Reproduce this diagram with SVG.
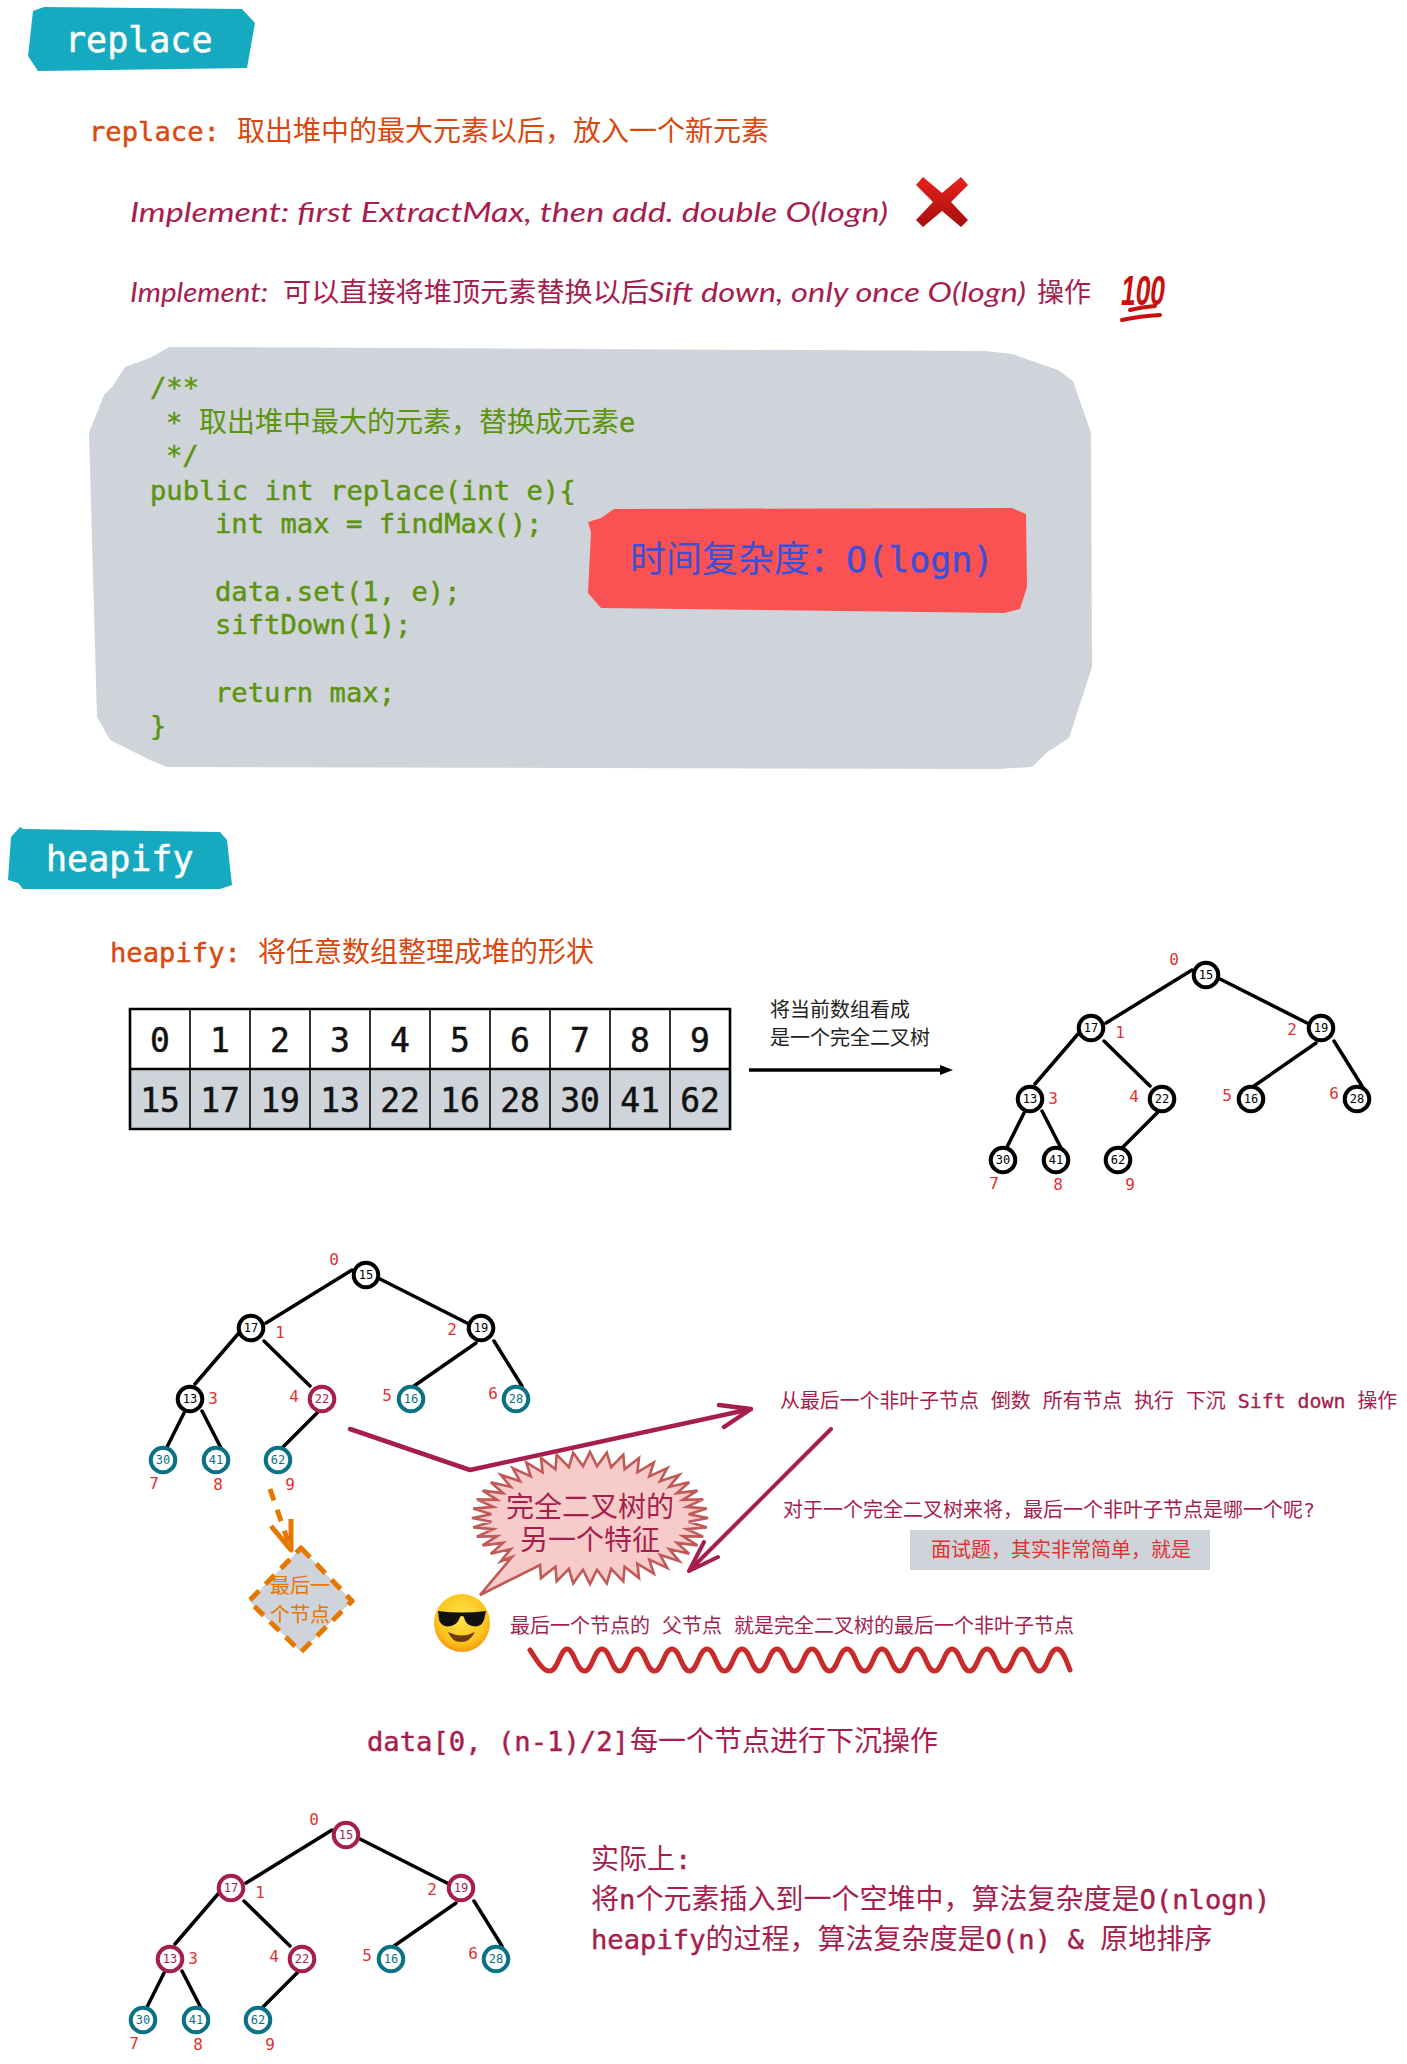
<svg xmlns="http://www.w3.org/2000/svg" width="1407" height="2064" viewBox="0 0 1407 2064">
<style>
text{font-family:"DejaVu Sans Mono","Noto Sans CJK SC",monospace}
.cjk{font-family:"Noto Sans CJK SC",sans-serif;stroke:none}
.hand{font-family:"Lato","Noto Sans CJK SC",sans-serif;font-style:italic;font-size:27px;fill:#a61e4d}
.hz{font-family:"Noto Sans CJK SC",sans-serif;font-size:27px;fill:#a61e4d}
.badge{fill:#15aabf}
.bt{fill:#fff;font-size:35px;stroke:#fff;stroke-width:.5}
.o{fill:#d9480f;font-size:27.2px;stroke:#d9480f;stroke-width:.45}
.code{fill:#5c940d;font-size:27.2px;stroke:#5c940d;stroke-width:.45}
.cr{fill:#a61e4d}
.f28{font-size:27.2px;stroke:#a61e4d;stroke-width:.45}
.f20{font-size:19.8px}
.lat{stroke:#a61e4d;stroke-width:.35}
.cell{font-size:33px;text-anchor:middle;fill:#111;stroke:#111;stroke-width:.5}
.ln{stroke:#000;fill:none}
.n circle{stroke-width:4;fill:#fff}
.n .v{font-size:12px;text-anchor:middle}
.n .i{font-size:16px;text-anchor:middle;fill:#e03131}
.k circle{stroke:#000}.k .v{fill:#000}
.c circle{stroke:#a61e4d}.c .v{fill:#a61e4d}
.t circle{stroke:#0b7285}.t .v{fill:#0b7285}
.edge{stroke:#000;stroke-width:3.5;stroke-linecap:round}
.arrow{fill:none;stroke:#a61e4d;stroke-width:4.5;stroke-linecap:round;stroke-linejoin:round}
.dash{fill:none;stroke:#e67700;stroke-width:5;stroke-linejoin:round}
</style>
<defs>
<linearGradient id="xg" x1="0" y1="0" x2="0" y2="1"><stop offset="0" stop-color="#e8211c"/><stop offset="1" stop-color="#a50f0f"/></linearGradient>
<radialGradient id="fg" cx="0.5" cy="0.4" r="0.65"><stop offset="0" stop-color="#ffe64d"/><stop offset="0.7" stop-color="#fcc21b"/><stop offset="1" stop-color="#ee8a10"/></radialGradient>
</defs>

<g id="badge-replace"><polygon class="badge" points="33,11 44,7 242,9 255,23 247,68 38,71 28,56 32,20"/><text class="bt" x="65" y="52">replace</text></g>
<g id="title-replace"><text class="o" x="89" y="141">replace:<tspan x="237" class="cjk" font-size="28">取出堆中的最大元素以后，放入一个新元素</tspan></text></g>
<g id="implement-1"><text class="hand" x="130" y="222" textLength="758" lengthAdjust="spacingAndGlyphs">Implement: first ExtractMax, then add. double O(logn)</text>
<polygon fill="url(#xg)" points="916,185 923,177 942,193 961,177 968,185 951,202 968,220 961,227 942,211 923,227 916,220 933,202"/></g>
<g id="implement-2"><text class="hand" x="130" y="302" textLength="138" lengthAdjust="spacingAndGlyphs">Implement:</text>
<text class="hz" x="283" y="302" textLength="366" lengthAdjust="spacingAndGlyphs">可以直接将堆顶元素替换以后</text>
<text class="hand" x="648" y="302" textLength="378" lengthAdjust="spacingAndGlyphs">Sift down, only once O(logn)</text>
<text class="hz" x="1037" y="302">操作</text>
<text x="1121" y="305" fill="#c8100f" font-size="43" font-weight="bold" style="font-family:'Liberation Sans',sans-serif;font-style:italic" textLength="44" lengthAdjust="spacingAndGlyphs">100</text>
<path d="M1130 310Q1142 307 1155 306M1122 320Q1140 316 1160 315" fill="none" stroke="#c8100f" stroke-width="4" stroke-linecap="round"/></g>

<g id="code-block"><polygon fill="#ced4da" points="169,347 197,347 985,351 1012,354 1058,370 1073,381 1091,433 1092,667 1069,738 1046,753 1032,767 998,769 167,767 150,760 110,740 97,717 89,433 104,395 112,387 125,367 150,358"/>
<g class="code"><text x="150" y="397">/**</text><text x="166" y="432">*<tspan x="199" class="cjk" font-size="28">取出堆中最大的元素，替换成元素</tspan><tspan>e</tspan></text><text x="166" y="465">*/</text><text x="150" y="500">public int replace(int e){</text><text x="215" y="533">int max = findMax();</text><text x="215" y="601">data.set(1, e);</text><text x="215" y="634">siftDown(1);</text><text x="215" y="702">return max;</text><text x="150" y="735">}</text></g></g>
<g id="complexity"><polygon fill="#fa5252" points="614,509 1012,508 1026,514 1027,587 1020,609 1004,613 601,608 588,593 591,532 588,522 601,518"/><text x="630" y="572" fill="#3b50d8" font-size="36">时间复杂度：<tspan font-size="35" stroke="#3b50d8" stroke-width=".4">O(logn)</tspan></text></g>

<g id="badge-heapify"><polygon class="badge" points="20,827 23,829 220,832 227,840 232,885 220,889 23,889 18,883 8,880 11,837"/><text class="bt" x="46" y="871">heapify</text></g>
<g id="title-heapify"><text class="o" x="110" y="962">heapify:<tspan x="258" class="cjk" font-size="28">将任意数组整理成堆的形状</tspan></text></g>

<g id="array">
<rect x="130" y="1009" width="600" height="60" fill="#fff"/><rect x="130" y="1069" width="600" height="60" fill="#ced4da"/>
<path class="ln" stroke-width="1.6" d="M190 1009V1129M250 1009V1129M310 1009V1129M370 1009V1129M430 1009V1129M490 1009V1129M550 1009V1129M610 1009V1129M670 1009V1129"/>
<path class="ln" stroke-width="2.6" d="M130 1009H730V1129H130ZM130 1069H730"/>
<g class="cell"><text x="160" y="1052">0</text><text x="220" y="1052">1</text><text x="280" y="1052">2</text><text x="340" y="1052">3</text><text x="400" y="1052">4</text><text x="460" y="1052">5</text><text x="520" y="1052">6</text><text x="580" y="1052">7</text><text x="640" y="1052">8</text><text x="700" y="1052">9</text>
<text x="160" y="1112">15</text><text x="220" y="1112">17</text><text x="280" y="1112">19</text><text x="340" y="1112">13</text><text x="400" y="1112">22</text><text x="460" y="1112">16</text><text x="520" y="1112">28</text><text x="580" y="1112">30</text><text x="640" y="1112">41</text><text x="700" y="1112">62</text></g>
</g>
<g id="array-note"><text font-size="20" x="770" y="1017" fill="#222">将当前数组看成</text><text font-size="20" x="770" y="1045" fill="#222">是一个完全二叉树</text></g>

<g id="connectors">
<path d="M749 1070H943" stroke="#000" stroke-width="3.6"/><polygon points="940,1065 953,1070 940,1075"/>
<g id="edges-tree1" transform="translate(840 -300)"><path class="edge" d="M352 1270L266 1323M380 1279L467 1323M238 1334L195 1384M264 1341L310 1386M476 1343L414 1386M494 1341L522 1386M184 1413L167 1447M202 1411L221 1448M318 1412L282 1448"/></g>
<g id="edges-tree2"><path class="edge" d="M352 1270L266 1323M380 1279L467 1323M238 1334L195 1384M264 1341L310 1386M476 1343L414 1386M494 1341L522 1386M184 1413L167 1447M202 1411L221 1448M318 1412L282 1448"/></g>
<g id="edges-tree3" transform="translate(-20 560)"><path class="edge" d="M352 1270L266 1323M380 1279L467 1323M238 1334L195 1384M264 1341L310 1386M476 1343L414 1386M494 1341L522 1386M184 1413L167 1447M202 1411L221 1448M318 1412L282 1448"/></g>
<path class="arrow" d="M350 1429L470 1470L751 1409M719 1405L751 1409L724 1427"/>
<path class="arrow" style="stroke-width:4" d="M831 1429L689 1571M704 1542L689 1571L718 1557"/>
<path class="dash" stroke-dasharray="12 10" d="M270 1489L291 1550"/>
<path class="dash" d="M271 1526L291 1550L291 1519"/>
</g>

<g class="n k" id="t1-15" transform="translate(1206 975)"><circle r="12.3"/><text class="v" y="4">15</text><text class="i" x="-32" y="-10">0</text></g>
<g class="n k" id="t1-17" transform="translate(1091 1028)"><circle r="12.3"/><text class="v" y="4">17</text><text class="i" x="29" y="10">1</text></g>
<g class="n k" id="t1-19" transform="translate(1321 1028)"><circle r="12.3"/><text class="v" y="4">19</text><text class="i" x="-29" y="7">2</text></g>
<g class="n k" id="t1-13" transform="translate(1030 1099)"><circle r="12.3"/><text class="v" y="4">13</text><text class="i" x="23" y="5">3</text></g>
<g class="n k" id="t1-22" transform="translate(1162 1099)"><circle r="12.3"/><text class="v" y="4">22</text><text class="i" x="-28" y="3">4</text></g>
<g class="n k" id="t1-16" transform="translate(1251 1099)"><circle r="12.3"/><text class="v" y="4">16</text><text class="i" x="-24" y="2">5</text></g>
<g class="n k" id="t1-28" transform="translate(1357 1099)"><circle r="12.3"/><text class="v" y="4">28</text><text class="i" x="-23" y="0">6</text></g>
<g class="n k" id="t1-30" transform="translate(1003 1160)"><circle r="12.3"/><text class="v" y="4">30</text><text class="i" x="-9" y="29">7</text></g>
<g class="n k" id="t1-41" transform="translate(1056 1160)"><circle r="12.3"/><text class="v" y="4">41</text><text class="i" x="2" y="30">8</text></g>
<g class="n k" id="t1-62" transform="translate(1118 1160)"><circle r="12.3"/><text class="v" y="4">62</text><text class="i" x="12" y="30">9</text></g>

<g class="n k" id="t2-15" transform="translate(366 1275)"><circle r="12.3"/><text class="v" y="4">15</text><text class="i" x="-32" y="-10">0</text></g>
<g class="n k" id="t2-17" transform="translate(251 1328)"><circle r="12.3"/><text class="v" y="4">17</text><text class="i" x="29" y="10">1</text></g>
<g class="n k" id="t2-19" transform="translate(481 1328)"><circle r="12.3"/><text class="v" y="4">19</text><text class="i" x="-29" y="7">2</text></g>
<g class="n k" id="t2-13" transform="translate(190 1399)"><circle r="12.3"/><text class="v" y="4">13</text><text class="i" x="23" y="5">3</text></g>
<g class="n c" id="t2-22" transform="translate(322 1399)"><circle r="12.3"/><text class="v" y="4">22</text><text class="i" x="-28" y="3">4</text></g>
<g class="n t" id="t2-16" transform="translate(411 1399)"><circle r="12.3"/><text class="v" y="4">16</text><text class="i" x="-24" y="2">5</text></g>
<g class="n t" id="t2-28" transform="translate(516 1399)"><circle r="12.3"/><text class="v" y="4">28</text><text class="i" x="-23" y="0">6</text></g>
<g class="n t" id="t2-30" transform="translate(163 1460)"><circle r="12.3"/><text class="v" y="4">30</text><text class="i" x="-9" y="29">7</text></g>
<g class="n t" id="t2-41" transform="translate(216 1460)"><circle r="12.3"/><text class="v" y="4">41</text><text class="i" x="2" y="30">8</text></g>
<g class="n t" id="t2-62" transform="translate(278 1460)"><circle r="12.3"/><text class="v" y="4">62</text><text class="i" x="12" y="30">9</text></g>

<g id="last-node"><polygon points="301,1548 352,1601 301,1652 249,1601" class="dash" style="fill:#ced4da" stroke-dasharray="13 9"/><text font-size="20" x="300" y="1593" text-anchor="middle" fill="#e67700">最后一</text><text font-size="20" x="300" y="1622" text-anchor="middle" fill="#e67700">个节点</text></g>

<g id="burst"><polygon transform="translate(590 1518)" fill="#f7cbc9" stroke="#c05a58" stroke-width="2.6" stroke-linejoin="miter" points="118,0 98.7,-3.7 116.8,-9.4 96.7,-11.1 113.2,-18.6 92.8,-18.2 107.4,-27.4 86.9,-24.9 99.2,-35.7 79.2,-31.1 89.2,-43.2 70,-36.8 77.3,-49.9 59.3,-41.6 63.8,-55.5 47.4,-45.7 49,-60.1 34.6,-48.7 33.3,-63.4 21.1,-50.8 16.8,-65.3 7,-51.8 0,-66 -7,-51.8 -16.8,-65.3 -21.1,-50.8 -33.3,-63.4 -34.6,-48.7 -49,-60.1 -47.4,-45.7 -63.8,-55.5 -59.3,-41.6 -77.3,-49.9 -70,-36.8 -89.2,-43.2 -79.2,-31.1 -99.2,-35.7 -86.9,-24.9 -107.4,-27.4 -92.8,-18.2 -113.2,-18.6 -96.7,-11.1 -116.8,-9.4 -98.7,-3.7 -118,0 -98.7,3.7 -116.8,9.4 -96.7,11.1 -113.2,18.6 -92.8,18.2 -107.4,27.4 -86.9,24.9 -99.2,35.7 -79.2,31.1 -89.2,43.2 -78,39 -110,77 -50,47 -49,60.1 -34.6,48.7 -33.3,63.4 -21.1,50.8 -16.8,65.3 -7,51.8 0,66 7,51.8 16.8,65.3 21.1,50.8 33.3,63.4 34.6,48.7 49,60.1 47.4,45.7 63.8,55.5 59.3,41.6 77.3,49.9 70,36.8 89.2,43.2 79.2,31.1 99.2,35.7 86.9,24.9 107.4,27.4 92.8,18.2 113.2,18.6 96.7,11.1 116.8,9.4 98.7,3.7"/>
<text class="cr" font-size="28" x="590" y="1517" text-anchor="middle">完全二叉树的</text><text class="cr" font-size="28" x="590" y="1550" text-anchor="middle">另一个特征</text></g>

<g id="emoji-cool"><ellipse cx="462" cy="1623" rx="28" ry="29" fill="url(#fg)"/>
<path d="M438 1611Q462 1614 486 1611L484 1620Q481 1628 472 1626Q465 1624 464 1617Q462 1615 460 1617Q458 1624 451 1626Q442 1628 439 1620Z" fill="#111"/>
<path d="M448 1632Q462 1639 475 1632Q470 1642 461 1642Q452 1642 448 1632Z" fill="#6b3a10"/></g>

<g id="note-1"><text class="cr" font-size="19.9" x="780" y="1408">从最后一个非叶子节点 倒数 所有节点 执行 下沉 <tspan class="lat">Sift down</tspan> 操作</text></g>
<g id="note-2"><text class="cr" font-size="20" x="783" y="1517">对于一个完全二叉树来将，最后一个非叶子节点是哪一个呢?</text></g>
<g id="note-3"><rect x="910" y="1530" width="300" height="40" fill="#ced4da"/><text font-size="20" x="931" y="1557" fill="#e03131">面试题，其实非常简单，就是</text></g>
<g id="note-4"><text class="cr" font-size="20" x="510" y="1633">最后一个节点的 父节点 就是完全二叉树的最后一个非叶子节点</text>
<path d="M530 1650C538 1662 543 1671 549.5 1671C558 1671 560 1649 567 1649s9.5 22 17.5 22s9.5 -22 17.5 -22s9.5 22 17.5 22s9.5 -22 17.5 -22s9.5 22 17.5 22s9.5 -22 17.5 -22s9.5 22 17.5 22s9.5 -22 17.5 -22s9.5 22 17.5 22s9.5 -22 17.5 -22s9.5 22 17.5 22s9.5 -22 17.5 -22s9.5 22 17.5 22s9.5 -22 17.5 -22s9.5 22 17.5 22s9.5 -22 17.5 -22s9.5 22 17.5 22s9.5 -22 17.5 -22s9.5 22 17.5 22s9.5 -22 17.5 -22s9.5 22 17.5 22s9.5 -22 17.5 -22s9.5 22 17.5 22s9.5 -22 17.5 -22s9.5 22 17.5 22s9.5 -22 17.5 -22s9.5 22 17.5 22s9.5 -22 17.5 -22C1063 1649 1066 1660 1070 1670" fill="none" stroke="#c92a2a" stroke-width="5" stroke-linecap="round"/></g>

<g id="range"><text class="cr f28" x="367" y="1751">data[0, (n-1)/2]<tspan x="630" class="cjk" font-size="28">每一个节点进行下沉操作</tspan></text></g>

<g class="n c" id="t3-15" transform="translate(346 1835)"><circle r="12.3"/><text class="v" y="4">15</text><text class="i" x="-32" y="-10">0</text></g>
<g class="n c" id="t3-17" transform="translate(231 1888)"><circle r="12.3"/><text class="v" y="4">17</text><text class="i" x="29" y="10">1</text></g>
<g class="n c" id="t3-19" transform="translate(461 1888)"><circle r="12.3"/><text class="v" y="4">19</text><text class="i" x="-29" y="7">2</text></g>
<g class="n c" id="t3-13" transform="translate(170 1959)"><circle r="12.3"/><text class="v" y="4">13</text><text class="i" x="23" y="5">3</text></g>
<g class="n c" id="t3-22" transform="translate(302 1959)"><circle r="12.3"/><text class="v" y="4">22</text><text class="i" x="-28" y="3">4</text></g>
<g class="n t" id="t3-16" transform="translate(391 1959)"><circle r="12.3"/><text class="v" y="4">16</text><text class="i" x="-24" y="2">5</text></g>
<g class="n t" id="t3-28" transform="translate(496 1959)"><circle r="12.3"/><text class="v" y="4">28</text><text class="i" x="-23" y="0">6</text></g>
<g class="n t" id="t3-30" transform="translate(143 2020)"><circle r="12.3"/><text class="v" y="4">30</text><text class="i" x="-9" y="29">7</text></g>
<g class="n t" id="t3-41" transform="translate(196 2020)"><circle r="12.3"/><text class="v" y="4">41</text><text class="i" x="2" y="30">8</text></g>
<g class="n t" id="t3-62" transform="translate(258 2020)"><circle r="12.3"/><text class="v" y="4">62</text><text class="i" x="12" y="30">9</text></g>

<g id="summary"><text class="cr f28" x="591" y="1869"><tspan class="cjk" font-size="28">实际上</tspan>:</text>
<text class="cr f28" x="591" y="1909"><tspan class="cjk" font-size="28">将</tspan>n<tspan class="cjk" font-size="28">个元素插入到一个空堆中，算法复杂度是</tspan>O(nlogn)</text>
<text class="cr f28" x="591" y="1949">heapify<tspan class="cjk" font-size="28">的过程，算法复杂度是</tspan>O(n) &amp; <tspan class="cjk" font-size="28">原地排序</tspan></text></g>
</svg>
